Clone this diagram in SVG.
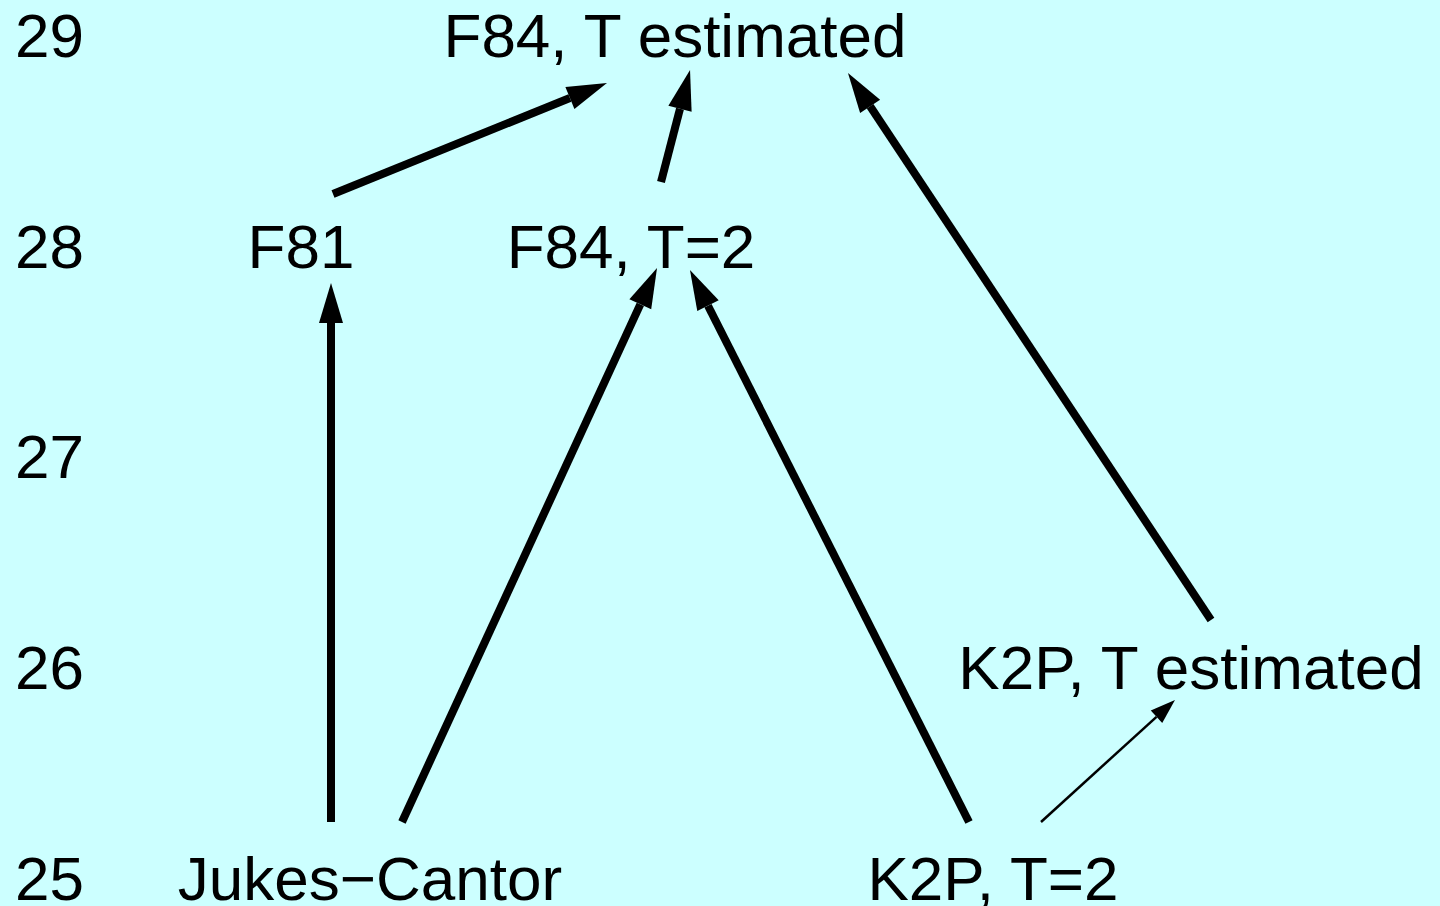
<svg xmlns="http://www.w3.org/2000/svg" width="1440" height="906" viewBox="0 0 1440 906">
  <style>
    text { font-family: "Liberation Sans", Arial, Helvetica, sans-serif; font-size: 62px; fill: #000; }
    .lbl { text-anchor: middle; }
    .thick { stroke: #000; stroke-width: 8; fill: none; marker-end: url(#headBig); }
    .thin { stroke: #000; stroke-width: 2.5; fill: none; marker-end: url(#headSmall); }
  </style>
  <defs>
    <marker id="headBig" markerUnits="userSpaceOnUse" orient="auto" refX="0" refY="0" markerWidth="50" markerHeight="30" overflow="visible">
      <path d="M0,-12 L40,0 L0,12 z" fill="#000"/>
    </marker>
    <marker id="headSmall" markerUnits="userSpaceOnUse" orient="auto" refX="0" refY="0" markerWidth="30" markerHeight="20" overflow="visible">
      <path d="M0,-8.5 L25,0 L0,8.5 z" fill="#000"/>
    </marker>
  </defs>
  <rect x="0" y="0" width="1440" height="906" fill="#ccffff"/>

  <!-- level axis -->
  <g id="levels">
    <text x="15" y="57">29</text>
    <text x="15" y="268">28</text>
    <text x="15" y="478">27</text>
    <text x="15" y="689">26</text>
    <text x="15" y="900">25</text>
  </g>

  <g id="connectors">
    <line class="thick" x1="333" y1="194" x2="569.9" y2="98.0"/>
    <line class="thick" x1="661" y1="182" x2="680.0" y2="108.7"/>
    <line class="thick" x1="1211" y1="620" x2="870.1" y2="106.3"/>
    <line class="thick" x1="331" y1="822" x2="331" y2="323"/>
    <line class="thick" x1="402" y1="822" x2="640.3" y2="304.3"/>
    <line class="thick" x1="969" y1="822" x2="708.0" y2="305.7"/>
    <line class="thin" x1="1041" y1="822" x2="1156.5" y2="716.8"/>
  </g>

  <g id="f84-est"><text class="lbl" x="675" y="57">F84, T estimated</text></g>
  <g id="f81"><text class="lbl" x="301" y="268">F81</text></g>
  <g id="f84-t2"><text class="lbl" x="631" y="268">F84, T=2</text></g>
  <g id="k2p-est"><text class="lbl" x="1191" y="689">K2P, T estimated</text></g>
  <g id="jukes-cantor"><text class="lbl" x="370" y="900">Jukes−Cantor</text></g>
  <g id="k2p-t2"><text class="lbl" x="993" y="900">K2P, T=2</text></g>
</svg>
